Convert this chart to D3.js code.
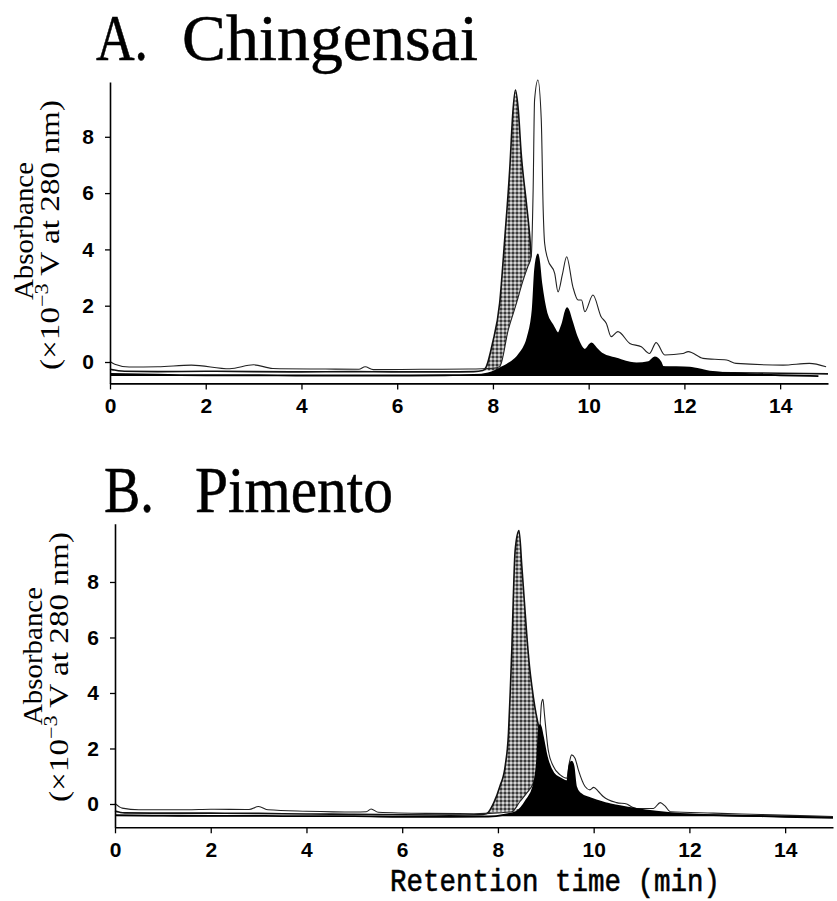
<!DOCTYPE html>
<html><head><meta charset="utf-8">
<script src="https://cdn.jsdelivr.net/npm/d3@7"></script>
<style>body{margin:0;background:#fff}</style>
</head><body>
<svg id="c" width="837" height="901" xmlns="http://www.w3.org/2000/svg"></svg>
<script>
// ---------- data ----------
const xTicks = [0, 2, 4, 6, 8, 10, 12, 14];
const yTicks = [0, 2, 4, 6, 8];
const panelTitles = ["A. Chingensai", "B. Pimento"];
const xLabel = "Retention time (min)";
const yLabelLine1 = "Absorbance";

// Panel A (Chingensai) traces: [retention time (min), absorbance (x10^-3 V)]
const chingensaiGray = [[0,-0.26],[0.3,-0.33],[1,-0.34],[2,-0.33],[3,-0.34],[4,-0.35],[5,-0.34],[6,-0.35],[7,-0.35],[7.6,-0.34],[7.79,-0.3],[7.86,-0.17],[7.99,0.66],[8.14,2.08],[8.25,4.45],[8.35,6.82],[8.42,8.95],[8.47,9.66],[8.53,8.95],[8.59,7.41],[8.70,5.63],[8.77,4.45],[8.80,3.74],[8.9,2.3],[9.0,1.4],[9.2,0.6],[9.5,0.1],[10.0,-0.15],[10.5,-0.28],[11,-0.33],[12,-0.36],[13,-0.38],[14,-0.4],[15,-0.42]];
const chingensaiTotal = [[0,0.02],[0.1,-0.08],[0.4,-0.18],[1.0,-0.17],[1.7,-0.11],[2.5,-0.24],[3.0,-0.1],[3.4,-0.23],[4.5,-0.25],[5.2,-0.26],[5.33,-0.17],[5.5,-0.27],[6.5,-0.26],[7.5,-0.25],[8.0,-0.22],[8.14,-0.17],[8.32,1.14],[8.49,2.08],[8.63,2.9],[8.72,3.35],[8.80,3.74],[8.84,6.11],[8.87,9.31],[8.94,10.02],[9.01,8.6],[9.05,5.4],[9.08,4.22],[9.15,3.63],[9.29,3.15],[9.36,2.49],[9.45,3.1],[9.54,3.74],[9.67,2.67],[9.78,2.2],[9.85,2.2],[9.92,1.79],[10.09,2.38],[10.26,1.61],[10.37,1.37],[10.47,0.9],[10.61,1.08],[10.86,0.66],[11.1,0.54],[11.27,0.3],[11.41,0.69],[11.59,0.25],[11.97,0.3],[12.08,0.37],[12.39,0.13],[12.88,0.07],[13.08,-0.05],[14.06,-0.11],[14.61,-0.05],[14.96,-0.17]];
const chingensaiBlack = [[0,-0.42],[1,-0.45],[2,-0.47],[3,-0.47],[4,-0.48],[5,-0.48],[6,-0.48],[7,-0.47],[7.6,-0.46],[7.9,-0.4],[8.21,-0.17],[8.56,0.3],[8.73,0.9],[8.83,1.85],[8.88,3.27],[8.94,3.82],[9.01,2.8],[9.12,1.73],[9.25,1.3],[9.36,1.02],[9.45,1.35],[9.55,1.91],[9.64,1.49],[9.75,0.9],[9.92,0.43],[10.06,0.66],[10.15,0.5],[10.27,0.3],[10.58,0.12],[11.0,-0.05],[11.25,0.0],[11.38,0.16],[11.5,0.0],[11.55,-0.17],[12.11,-0.2],[12.53,-0.34],[13.35,-0.43],[14.0,-0.47],[14.8,-0.5]];

// Panel B (Pimento) traces
const pimentoGray = [[0,-0.25],[0.2,-0.32],[1,-0.33],[2,-0.33],[3,-0.34],[4,-0.36],[5,-0.37],[6,-0.39],[7,-0.4],[7.6,-0.39],[7.77,-0.34],[7.91,0.03],[8.04,0.63],[8.15,1.35],[8.22,2.55],[8.25,3.75],[8.29,5.55],[8.32,7.35],[8.36,9.15],[8.44,9.85],[8.50,8.55],[8.55,7.35],[8.60,6.15],[8.66,4.95],[8.71,4.23],[8.77,3.51],[8.85,2.79],[8.95,1.9],[9.05,1.2],[9.2,0.6],[9.5,0.05],[10,-0.2],[10.5,-0.33],[12,-0.38],[13,-0.42],[14,-0.45],[15,-0.48]];
const pimentoTotal = [[0,0.02],[0.15,-0.15],[0.5,-0.21],[1.5,-0.21],[2.0,-0.19],[2.8,-0.2],[3.0,-0.09],[3.2,-0.21],[4.0,-0.26],[5.0,-0.29],[5.25,-0.28],[5.35,-0.18],[5.5,-0.3],[6.5,-0.34],[7.5,-0.35],[8.0,-0.32],[8.29,-0.28],[8.46,0.09],[8.60,0.39],[8.74,0.75],[8.79,0.99],[8.85,1.71],[8.88,2.79],[8.91,3.63],[8.94,3.77],[8.97,3.27],[9.01,2.55],[9.05,1.95],[9.16,1.35],[9.30,1.05],[9.44,0.93],[9.49,1.47],[9.54,1.77],[9.61,1.65],[9.68,1.23],[9.82,0.63],[9.92,0.51],[10.0,0.6],[10.1,0.45],[10.2,0.27],[10.48,0.05],[10.69,0.0],[10.79,-0.1],[10.9,-0.16],[11.25,-0.16],[11.39,0.05],[11.49,-0.07],[11.6,-0.28],[12.5,-0.33],[13.5,-0.38],[14.5,-0.43],[15,-0.45]];
const pimentoBlack = [[0,-0.4],[1,-0.42],[2,-0.43],[3,-0.43],[4,-0.44],[5,-0.44],[6,-0.46],[7,-0.46],[7.8,-0.45],[8.15,-0.38],[8.39,-0.28],[8.60,0.15],[8.74,0.63],[8.82,1.59],[8.85,2.55],[8.88,2.85],[8.93,2.5],[9.02,1.71],[9.16,1.11],[9.30,0.93],[9.45,0.81],[9.49,1.35],[9.54,1.53],[9.58,1.35],[9.63,0.63],[9.71,0.39],[9.92,0.21],[10.27,0.02],[10.83,-0.16],[11.31,-0.28],[11.8,-0.36],[12.5,-0.4],[13.5,-0.44],[14.5,-0.48],[15,-0.5]];

// fill floors (integration baselines)
const floorsA = {gray: -0.3, total: -0.16, black: -0.5};
const floorsB = {gray: -0.3, total: -0.16, black: -0.44};

// ---------- drawing ----------
const svg = d3.select("#c");
const defs = svg.append("defs");
const pat = defs.append("pattern").attr("id","stipple").attr("patternUnits","userSpaceOnUse")
  .attr("width",4).attr("height",4);
pat.append("rect").attr("width",4).attr("height",4).attr("fill","#8c8c8c");
pat.append("rect").attr("x",0).attr("y",0).attr("width",2).attr("height",2).attr("fill","#3a3a3a");
pat.append("rect").attr("x",2).attr("y",2).attr("width",2).attr("height",2).attr("fill","#d6d6d6");

const panels = [
  {title: panelTitles[0], tx: [96, 182], ty: 60, tLen: [52, 296], gray: chingensaiGray, total: chingensaiTotal, black: chingensaiBlack, floors: floorsA,
   xr: [110, 828], yd: [-0.76, 9.95], yr: [383.4, 81.9], yl1: [33, 231], yl2: [59, 235]},
  {title: panelTitles[1], tx: [104, 195], ty: 512, tLen: [50, 198], gray: pimentoGray, total: pimentoTotal, black: pimentoBlack, floors: floorsB,
   xr: [115, 833], yd: [-0.84, 10.1], yr: [827.3, 523.7], yl1: [42, 656], yl2: [68, 667]}
];

panels.forEach(p => {
  const x = d3.scaleLinear().domain([0, 15]).range(p.xr);
  const y = d3.scaleLinear().domain(p.yd).range(p.yr);
  const g = svg.append("g");
  const mkArea = F => d3.area().curve(d3.curveMonotoneX)
      .x(d => x(d[0])).y0(d => y(Math.min(d[1], F))).y1(d => y(d[1]));
  const line = d3.line().curve(d3.curveMonotoneX).x(d => x(d[0])).y(d => y(d[1]));

  // gray (stippled) trace
  g.append("path").datum(p.gray).attr("d", mkArea(p.floors.gray)).attr("fill","url(#stipple)");
  g.append("path").datum(p.gray).attr("d", line).attr("fill","none").attr("stroke","#111").attr("stroke-width",1.6);
  // thin outlined trace
  g.append("path").datum(p.total).attr("d", mkArea(p.floors.total)).attr("fill","#fff");
  g.append("path").datum(p.total).attr("d", line).attr("fill","none").attr("stroke","#222").attr("stroke-width",1.1);
  // black trace
  g.append("path").datum(p.black).attr("d", mkArea(p.floors.black)).attr("fill","#000");
  g.append("path").datum(p.black).attr("d", line).attr("fill","none").attr("stroke","#000").attr("stroke-width",1.8);

  // axes
  const yAxis = d3.axisLeft(y).tickValues(yTicks).tickSize(5).tickPadding(11).tickSizeOuter(0);
  const yMinor = d3.axisLeft(y).tickValues(d3.range(-0.5, 10, 0.5).filter(v => !yTicks.includes(v))).tickSize(3).tickFormat("").tickSizeOuter(0);
  const xAxis = d3.axisBottom(x).tickValues(xTicks).tickSize(6).tickPadding(9).tickSizeOuter(0);
  const xMinor = d3.axisBottom(x).tickValues(d3.range(0.5, 15, 0.5).filter(v => !xTicks.includes(v))).tickSize(3).tickFormat("").tickSizeOuter(0);

  const gy = svg.append("g").attr("transform", `translate(${p.xr[0]},0)`);
  gy.call(yMinor); gy.call(yAxis);
  const gx = svg.append("g").attr("transform", `translate(0,${p.yr[0]})`);
  gx.call(xMinor); gx.call(xAxis);
  [gx, gy].forEach(a => {
    a.selectAll("path.domain").attr("stroke","#000").attr("stroke-width",1.6);
    a.selectAll(".tick line").attr("stroke","#000").attr("stroke-width",1.3);
    a.selectAll("text").attr("font-family","'Liberation Sans', Arial, sans-serif")
      .attr("font-weight","bold").attr("font-size",21).attr("fill","#000");
  });

  // title (letter + name, spaced as in the reference)
  const parts = [p.title.slice(0, p.title.indexOf(" ")), p.title.slice(p.title.indexOf(" ") + 1)];
  parts.forEach((s, i) => {
    svg.append("text").attr("x", p.tx[i]).attr("y", p.ty)
      .attr("font-family","'Liberation Serif', 'Times New Roman', serif")
      .attr("stroke","#000").attr("stroke-width",0.5)
      .attr("font-size", 66).attr("textLength", p.tLen[i]).attr("lengthAdjust","spacingAndGlyphs")
      .attr("fill","#000").text(s);
  });

  // y label
  svg.append("text").attr("transform", `translate(${p.yl1[0]},${p.yl1[1]}) rotate(-90)`)
    .attr("text-anchor","middle").attr("font-family","'Liberation Serif', 'Times New Roman', serif")
    .attr("font-size", 28).attr("textLength", 138).attr("lengthAdjust","spacingAndGlyphs")
    .attr("fill","#000").text(yLabelLine1);
  const t2 = svg.append("text").attr("transform", `translate(${p.yl2[0]},${p.yl2[1]}) rotate(-90)`)
    .attr("text-anchor","middle").attr("font-family","'Liberation Serif', 'Times New Roman', serif")
    .attr("font-size", 27).attr("textLength", 270).attr("lengthAdjust","spacingAndGlyphs").attr("fill","#000");
  t2.append("tspan").text("(×10");
  t2.append("tspan").attr("dy",-11).attr("font-size",18).text("−3");
  t2.append("tspan").attr("dy",11).text(" V at 280 nm)");
});

// x label
svg.append("text").attr("x", 555).attr("y", 891).attr("text-anchor","middle")
  .attr("font-family","'Liberation Mono', 'Courier New', monospace")
  .attr("stroke","#000").attr("stroke-width",0.6)
  .attr("font-size", 32).attr("textLength", 330).attr("lengthAdjust","spacingAndGlyphs")
  .attr("fill","#000").text(xLabel);
</script>
</body></html>
